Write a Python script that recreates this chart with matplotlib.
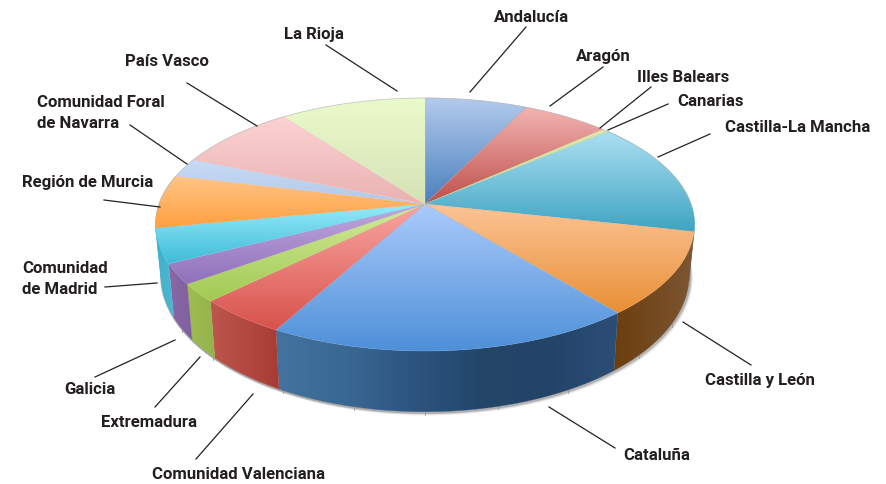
import numpy as np
import matplotlib
matplotlib.use("Agg")
import matplotlib.pyplot as plt
from matplotlib.patches import Polygon
from matplotlib.colors import to_rgb

# clockwise from 12 o'clock, Andalucia first
regions = ["Andalucía", "Aragón", "Illes Balears", "Canarias", "Castilla-La Mancha",
           "Castilla y León", "Cataluña", "Comunidad Valenciana", "Extremadura", "Galicia",
           "Comunidad\nde Madrid", "Región de Murcia", "Comunidad Foral\nde Navarra",
           "País Vasco", "La Rioja"]
shares = [7.2, 6.1, 0.2, 0.25, 14.7, 10.6, 18.9, 4.7, 2.3, 2.6, 4.4, 6.8, 2.4, 8.6, 10.2]

top_light = ["#b4cbec", "#f2b4b2", "#e2eeb4", "#dfe8a8", "#acdff2", "#fcc496", "#abcbfb", "#f9a5a1",
             "#d2ea9c", "#c2aae0", "#96ebfa", "#ffc486", "#c9dcf8", "#fdd2d2", "#ebfacb"]
top_dark = ["#4a80bd", "#bf4f4b", "#c0d080", "#c0d080", "#3ea4c2", "#e98f35", "#4e90d8", "#d8524b",
            "#a2ca52", "#8f70ba", "#3ebbd8", "#ffa040", "#b2c8e6", "#e8b2b2", "#d6e2b6"]
# wall colours, left to right on the page
wall_stops = [["#4a80bd"], ["#bf4f4b"], ["#c0d080"], ["#a090c0"], ["#3ea4c2"],
              ["#6b3e0c", "#7d5634"],
              ["#44739f", "#3a6894", "#2c5580", "#234668", "#224468", "#2c4d75"],
              ["#bd564e", "#a83c34"], ["#9dbd52", "#96b24c"], ["#8a68a8", "#7f5f9e"],
              ["#3fb2ce", "#4fb6d0"], ["#3fb2ce", "#3fb2ce"],
              ["#b2c8e6"], ["#e8b2b2"], ["#d6e2b6"]]

label_pos = [(532, 17), (603, 56), (683, 77), (711, 102), (798, 128), (760, 381), (657, 456), (239, 475),
             (149, 423), (90, 390), (22, 279), (88, 183), (37, 113), (167, 61), (314, 35)]
label_ha = ["center"] * 10 + ["left", "center", "left", "center", "center"]
leaders = [((526, 28), (470, 93)), ((603, 68), (550, 107)), ((651, 88), (600, 129)), ((668, 105), (608, 131)),
           ((710, 135), (658, 158)), ((751, 366), (683, 323)), ((615, 449), (549, 408)), ((196, 460), (253, 395)),
           ((155, 408), (200, 358)), ((95, 378), (175, 341)), ((105, 288), (157, 284)), ((104, 201), (160, 208)),
           ((130, 126), (187, 165)), ((187, 84), (257, 127)), ((326, 46), (397, 92))]
tick_x = [182, 213, 283, 354, 425, 498, 568, 639, 672]

# perspective of the pie disc on the page
CX, CY = 425, 205
A, B, K = 266, 123.2, 0.162


def rim(theta):
    x, y = np.sin(theta), np.cos(theta)
    d = 1 + K * y
    return CX + A * x / d, CY - B * y / d


def floor(px, py):
    return CX + 0.98 * (px - CX), CY + 49 + 1.08 * (py - CY)


def fill_gradient(ax, poly, stops, horizontal=False, z=2):
    patch = Polygon(poly, closed=True, facecolor="none", edgecolor="none", zorder=z)
    ax.add_patch(patch)
    rgb = np.array([to_rgb(c) for c in stops])
    if len(rgb) == 1:
        rgb = np.vstack([rgb, rgb])
    t = np.linspace(0, 1, 128)
    grad = np.column_stack([np.interp(t, np.linspace(0, 1, len(rgb)), rgb[:, k]) for k in range(3)])
    grad = grad[None, :, :] if horizontal else grad[:, None, :]
    xs, ys = poly[:, 0], poly[:, 1]
    im = ax.imshow(grad, extent=(xs.min(), xs.max(), ys.max(), ys.min()), aspect="auto",
                   interpolation="bilinear", zorder=z)
    im.set_clip_path(patch)
    # soften the jagged clip edge
    ax.add_patch(Polygon(poly, closed=True, facecolor="none", edgecolor=tuple(rgb.mean(axis=0)),
                         lw=0.4, alpha=0.5, zorder=z))


def main():
    fig = plt.figure(figsize=(8.87, 4.85), dpi=100)
    ax = fig.add_axes([0, 0, 1, 1])
    ax.axis("off")

    edges = np.cumsum([0] + shares) / sum(shares) * 2 * np.pi

    # soft shadow under the front of the pie
    th = np.linspace(np.radians(92), np.radians(262), 200)
    sx, sy = floor(*rim(th))
    for off, alpha in [(5, 0.04), (4, 0.07), (3, 0.1), (2, 0.15), (1, 0.25)]:
        ax.plot(sx + off * 0.5, sy + off * 0.5, color="#555555", lw=2, alpha=alpha, zorder=1)

    # faint ticks left over on the base
    order = np.argsort(sx)
    for x in tick_x:
        y = np.interp(x, sx[order], sy[order])
        ax.plot([x, x], [y, y + 3], color="#999999", lw=0.6, zorder=1)

    # side walls
    for i in range(len(shares)):
        lo, hi = edges[i], edges[i + 1]
        if hi < np.pi / 2 or lo > 3 * np.pi / 2:
            continue
        th = np.linspace(lo, hi, 60)
        px, py = rim(th)
        fx, fy = floor(px, py)
        poly = np.column_stack([np.r_[px, fx[::-1]], np.r_[py, fy[::-1]]])
        fill_gradient(ax, poly, wall_stops[i], horizontal=True)

    # top slices
    for i in range(len(shares)):
        th = np.linspace(edges[i], edges[i + 1], 60)
        px, py = rim(th)
        poly = np.column_stack([np.r_[CX, px], np.r_[CY, py]])
        fill_gradient(ax, poly, [top_light[i], top_dark[i]], z=3)

    # thin rim at the back of the disc
    th = np.linspace(-np.radians(92), np.radians(92), 200)
    ax.plot(*rim(th), color="#bbbbbb", lw=0.6, alpha=0.7, zorder=4)

    for (a, b) in leaders:
        ax.plot([a[0], b[0]], [a[1], b[1]], color="#222222", lw=0.9, zorder=5)

    for name, pos, ha in zip(regions, label_pos, label_ha):
        ax.text(pos[0], pos[1], name, ha=ha, va="center", fontsize=12.1, fontweight="bold",
                family=["Roboto", "DejaVu Sans"], color="#231f20",
                linespacing=1.55, zorder=6)

    ax.set_xlim(0, 887)
    ax.set_ylim(485, 0)
    fig.savefig("out.png", dpi=100, facecolor="white")


if __name__ == "__main__":
    main()
